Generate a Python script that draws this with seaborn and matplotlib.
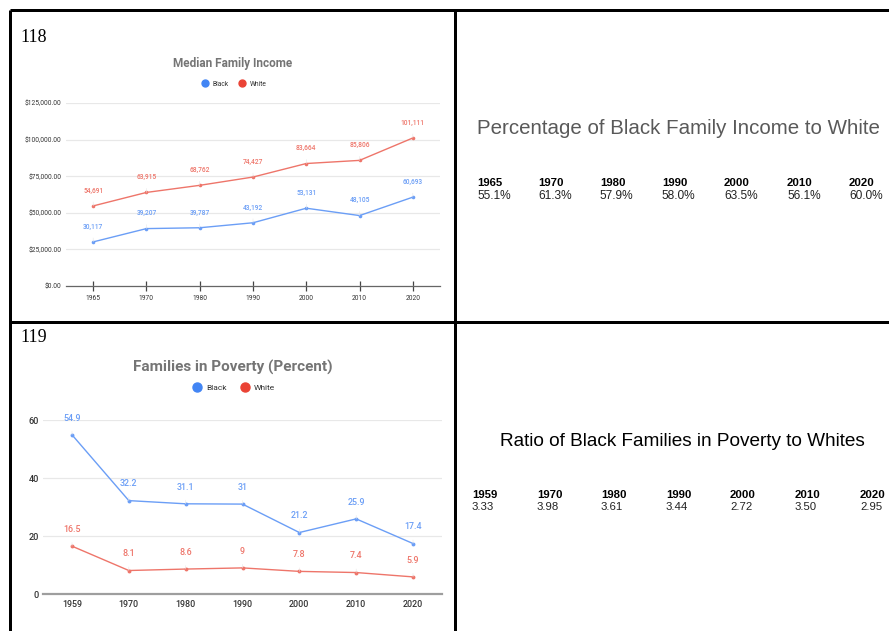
import numpy as np
import pandas as pd
import seaborn as sns
import matplotlib.pyplot as plt
from matplotlib.lines import Line2D

# ---- data ----
income_years = ["1965", "1970", "1980", "1990", "2000", "2010", "2020"]
income_black = [30117, 39207, 39787, 43192, 53131, 48105, 60693]
income_white = [54691, 63915, 68762, 74427, 83664, 85806, 101111]
income_ticks = [0, 25000, 50000, 75000, 100000, 125000]

poverty_years = ["1959", "1970", "1980", "1990", "2000", "2010", "2020"]
poverty_black = [54.9, 32.2, 31.1, 31, 21.2, 25.9, 17.4]
poverty_white = [16.5, 8.1, 8.6, 9, 7.8, 7.4, 5.9]
poverty_ticks = [0, 20, 40, 60]

pct_years = ["1965", "1970", "1980", "1990", "2000", "2010", "2020"]
pct_values = ["55.1%", "61.3%", "57.9%", "58.0%", "63.5%", "56.1%", "60.0%"]
ratio_years = ["1959", "1970", "1980", "1990", "2000", "2010", "2020"]
ratio_values = ["3.33", "3.98", "3.61", "3.44", "2.72", "3.50", "2.95"]

W, H = 889, 631
BLUE, RED = "#4285F4", "#EA4335"
BLUE_LINE, RED_LINE = "#6b9ef6", "#ee756a"

sns.set_style("white")
plt.rcParams["font.family"] = ["Roboto", "DejaVu Sans"]

fig = plt.figure(figsize=(W / 100, H / 100), dpi=100)


def rect(x0, y0, x1, y1):
    # pixel box (top-left origin) -> figure fraction
    return [x0 / W, 1 - y1 / H, (x1 - x0) / W, (y1 - y0) / H]


def long_df(years, black, white):
    n = len(years)
    return pd.DataFrame({
        "pos": list(range(n)) * 2,
        "value": list(black) + list(white),
        "race": ["Black"] * n + ["White"] * n,
    })


def draw_chart(ax, years, black, white, ticks, fmt, lab_size, lab_off, lw, ms):
    df = long_df(years, black, white)
    sns.lineplot(data=df, x="pos", y="value", hue="race",
                 palette={"Black": BLUE_LINE, "White": RED_LINE},
                 marker="o", markersize=ms, markeredgewidth=0,
                 linewidth=lw, legend=False, ax=ax)
    for vals, col in [(black, BLUE_LINE), (white, RED_LINE)]:
        for i, v in enumerate(vals):
            ax.annotate(fmt(v), xy=(i, v), xytext=(0, lab_off),
                        textcoords="offset points", ha="center", va="center",
                        fontsize=lab_size, color=col, clip_on=False,
                        fontweight="medium",
                        arrowprops=dict(arrowstyle="-", color="#e6e6e6", lw=0.4,
                                        shrinkA=lab_size * 0.6, shrinkB=0))
    ax.set_xlim(-0.51, len(years) - 0.49)
    ax.set_ylim(ticks[0], ticks[-1])
    ax.set_yticks(ticks)
    ax.set_xticks(range(len(years)))
    ax.set_xticklabels(years)
    ax.set_xlabel("")
    ax.set_ylabel("")
    ax.grid(axis="y", color="#e8e8e8", lw=0.9)
    for s in ["top", "right", "left"]:
        ax.spines[s].set_visible(False)
    ax.set_facecolor("none")


# ---- chart 118: median family income ----
ax1 = fig.add_axes(rect(66, 103, 440, 286))
draw_chart(ax1, income_years, income_black, income_white, income_ticks,
           lambda v: f"{v:,}", 4.8, 11, 1.0, 2.6)
ax1.set_yticklabels([f"${t:,.2f}" for t in income_ticks])
ax1.tick_params(axis="y", length=0, pad=3, labelsize=4.8, labelcolor="#333333")
ax1.tick_params(axis="x", bottom=True, direction="inout", length=7, width=0.9,
                color="#444444", pad=3, labelsize=4.8, labelcolor="#333333")
ax1.spines["bottom"].set_color("#666666")
ax1.spines["bottom"].set_linewidth(0.9)

# ---- chart 119: families in poverty ----
ax2 = fig.add_axes(rect(43, 420, 442, 594))
draw_chart(ax2, poverty_years, poverty_black, poverty_white, poverty_ticks,
           lambda v: f"{v:g}", 6.4, 12, 1.0, 2.8)
ax2.tick_params(axis="y", length=0, pad=3, labelsize=6.6, labelcolor="#333333")
ax2.tick_params(axis="x", length=0, pad=4, labelsize=6.4, labelcolor="#333333")
for lab in ax2.get_xticklabels() + ax2.get_yticklabels():
    lab.set_fontweight("medium")
ax2.spines["bottom"].set_color("#9e9e9e")
ax2.spines["bottom"].set_linewidth(1.6)

# titles + legends
fig.text(233 / W, 1 - 63 / H, "Median Family Income", ha="center", va="center",
         fontsize=8.5, fontweight="bold", color="#757575")
fig.text(233 / W, 1 - 367 / H, "Families in Poverty (Percent)", ha="center",
         va="center", fontsize=11, fontweight="bold", color="#757575")

for ax, y, fs, ms in [(ax1, 84, 4.8, 5), (ax2, 388, 6.0, 6.5)]:
    handles = [Line2D([], [], ls="", marker="o", color=c, markersize=ms)
               for c in (BLUE, RED)]
    ax.legend(handles, ["Black", "White"], loc="center", ncol=2, frameon=False,
              bbox_to_anchor=(234 / W, 1 - y / H), bbox_transform=fig.transFigure,
              fontsize=fs, handlelength=1.0, handletextpad=0.6, columnspacing=1.6,
              labelcolor="#333333")

# panel numbers
fig.text(20 / W, 1 - 37 / H, "118", ha="left", va="center", fontsize=13,
         family="Liberation Serif", color="black")
fig.text(20 / W, 1 - 337 / H, "119", ha="left", va="center", fontsize=13,
         family="Liberation Serif", color="black")

# ---- text panels ----
fig.text(678 / W, 1 - 128 / H, "Percentage of Black Family Income to White",
         ha="center", va="center", fontsize=14.8, family="Liberation Sans",
         color="#595959")
pct_x = [477, 538, 600, 662, 724, 787, 849]
for x, yr, v in zip(pct_x, pct_years, pct_values):
    fig.text(x / W, 1 - 183 / H, yr, ha="left", va="center", fontsize=8.2,
             fontweight="bold", family="Liberation Sans", color="black")
    fig.text(x / W, 1 - 196 / H, v, ha="left", va="center", fontsize=8.6,
             family="Liberation Sans", color="#222222")

fig.text(682 / W, 1 - 441 / H, "Ratio of Black Families in Poverty to Whites",
         ha="center", va="center", fontsize=13.7, family="Liberation Sans",
         color="black")
ratio_x = [472, 537, 601, 666, 730, 795, 860]
for x, yr, v in zip(ratio_x, ratio_years, ratio_values):
    fig.text(x / W, 1 - 495 / H, yr, ha="left", va="center", fontsize=8.2,
             fontweight="bold", family="Liberation Sans", color="black")
    fig.text(x / W, 1 - 507 / H, v, ha="left", va="center", fontsize=8.2,
             family="Liberation Sans", color="#222222")

# ---- panel borders ----
lw_px = 3 * 72 / 100
for xs, ys in [((9.5, W), (9.5, 9.5)), ((9.5, 9.5), (9.5, H)),
               ((455, 455), (9.5, H)), ((9.5, W), (322, 322))]:
    fig.add_artist(Line2D([x / W for x in xs], [1 - y / H for y in ys],
                          transform=fig.transFigure, color="black", lw=lw_px,
                          solid_capstyle="butt"))

fig.savefig("out.png", dpi=100)
